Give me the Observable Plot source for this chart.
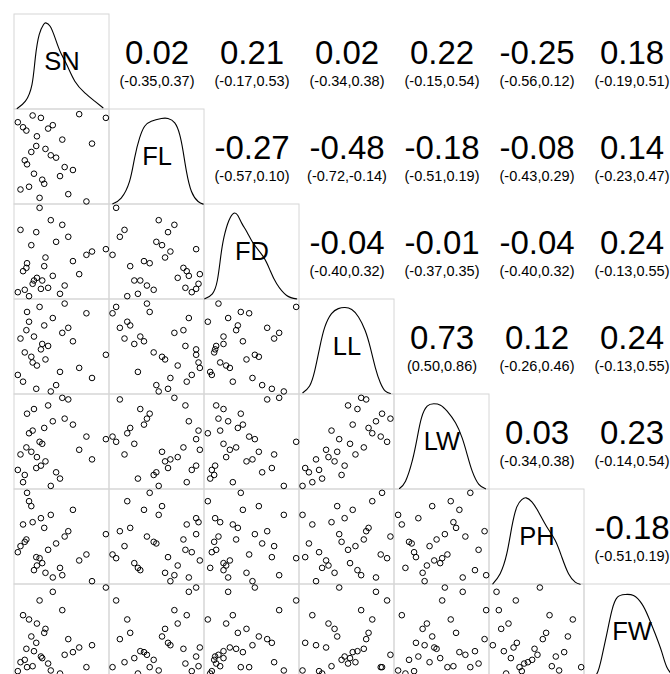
<!DOCTYPE html>
<html><head><meta charset="utf-8">
<script src="https://cdn.jsdelivr.net/npm/d3@7"></script>
<script src="https://cdn.jsdelivr.net/npm/@observablehq/plot@0.6"></script>
<style>
body{margin:0;background:#fff;}
#chart{width:670px;height:674px;overflow:hidden;background:#fff;}
#chart svg{max-width:none !important;width:680px !important;height:680px !important;}
</style></head><body><div id="chart"></div>
<script>
// Variables (panel order)
const vars = ["SN","FL","FD","LL","LW","PH","FW"];

const SN = [.035,.063,.090,.108,.125,.132,.153,.177,.191,.205,.229,.236,.264,.278,.292,.313,.326,.354,.382,.403,.438,.479,.503,.528,.566,.615,.681,.757,.816,.962];
const FL = [.866,.158,.813,.465,.778,.423,.187,.553,.937,.324,.616,.718,.070,.912,.261,.218,.585,.799,.518,.835,.493,.299,.683,.394,.109,.363,.951,.032,.641,.912];
const FD = [.077,.733,.298,.102,.333,.382,.035,.572,.165,.200,.709,.228,.965,.112,.200,.351,.442,.123,.835,.249,.607,.060,.786,.147,.660,.404,.267,.470,.505,.530];
const LL = [.206,.589,.135,.443,.677,.869,.766,.397,.337,.610,.060,.305,.922,.475,.532,.727,.369,.511,.032,.805,.099,.238,.649,.957,.702,.560,.280,.855,.174,.418];
const LW = [.206,.369,.077,.153,.443,.798,.592,.397,.620,.847,.226,.341,.502,.251,.481,.648,.296,.885,.038,.718,.181,.115,.965,.746,.948,.683,.418,.557,.317,.530];
const PH = [.340,.404,.632,.449,.474,.965,.877,.825,.656,.151,.288,.200,.277,.698,.225,.596,.123,.365,.733,.074,.432,.175,.098,.505,.561,.786,.253,.316,.035,.530];
const FW = [.088,.182,.677,.207,.323,.130,.632,.453,.140,.298,.386,.589,.832,.242,.225,.491,.533,.168,.095,.923,.020,.063,.730,.260,.425,.288,.337,.130,.361,.968];

// Upper-triangle correlations (row-major, i<j) and confidence intervals
const rValues = [0.02, 0.21, 0.02, 0.22, -0.25, 0.18,
                 -0.27, -0.48, -0.18, -0.08, 0.14,
                 -0.04, -0.01, -0.04, 0.24,
                 0.73, 0.12, 0.24,
                 0.03, 0.23,
                 -0.18];
const ciLow  = [-0.35, -0.17, -0.34, -0.15, -0.56, -0.19,
                -0.57, -0.72, -0.51, -0.43, -0.23,
                -0.40, -0.37, -0.40, -0.13,
                0.50, -0.26, -0.13,
                -0.34, -0.14,
                -0.51];
const ciHigh = [0.37, 0.53, 0.38, 0.54, 0.12, 0.51,
                0.10, -0.14, 0.19, 0.29, 0.47,
                0.32, 0.35, 0.32, 0.55,
                0.86, 0.46, 0.55,
                0.38, 0.54,
                0.19];

// Diagonal density curves: [x fraction, height fraction]
const densSN = [[.028,.011],[.115,.088],[.184,.263],[.219,.544],[.260,.789],[.306,.895],[.330,.912],[.375,.877],[.427,.754],[.479,.614],[.549,.474],[.635,.298],[.740,.175],[.844,.088],[.931,.018]];
const densFL = [[.035,.007],[.123,.067],[.211,.243],[.264,.489],[.317,.701],[.370,.824],[.440,.877],[.546,.905],[.616,.905],[.687,.859],[.739,.736],[.775,.560],[.810,.349],[.863,.137],[.933,.032],[.986,.004]];
const densFD = [[.003,.007],[.083,.060],[.135,.200],[.170,.446],[.205,.656],[.257,.832],[.309,.909],[.351,.884],[.396,.796],[.448,.709],[.517,.586],[.622,.446],[.691,.305],[.760,.165],[.865,.042],[.969,.007]];
const densLL = [[.035,.018],[.106,.089],[.160,.248],[.213,.496],[.266,.709],[.337,.851],[.408,.904],[.479,.915],[.550,.894],[.621,.816],[.691,.674],[.745,.496],[.798,.284],[.851,.124],[.904,.035],[.957,.011]];
const densLW = [[.053,.011],[.116,.088],[.186,.298],[.239,.544],[.284,.754],[.344,.877],[.414,.902],[.484,.888],[.554,.825],[.642,.702],[.712,.544],[.765,.368],[.818,.193],[.888,.053],[.958,.007]];
const densPH = [[.035,.007],[.112,.113],[.182,.324],[.235,.606],[.288,.817],[.340,.894],[.386,.912],[.446,.870],[.516,.764],[.604,.606],[.691,.465],[.761,.289],[.832,.113],[.902,.025],[.954,.002]];
const densFW = [[.050,.010],[.130,.060],[.182,.235],[.235,.481],[.288,.726],[.347,.867],[.428,.895],[.516,.884],[.604,.796],[.674,.656],[.744,.481],[.814,.288],[.867,.130],[.950,.010]];

// ---- build tables for the library ----
const values = {SN, FL, FD, LL, LW, PH, FW};
const densities = {SN: densSN, FL: densFL, FD: densFD, LL: densLL, LW: densLW, PH: densPH, FW: densFW};

const points = [];
const boxes = [];
const upper = [];
let u = 0;
vars.forEach((rowVar, i) => {
  vars.forEach((colVar, j) => {
    if (j < i) {
      boxes.push({fx: colVar, fy: rowVar});
      values[colVar].forEach((xv, k) => points.push({fx: colVar, fy: rowVar, x: xv, y: values[rowVar][k]}));
    } else if (j === i) {
      boxes.push({fx: colVar, fy: rowVar});
    }
  });
});
for (let i = 0; i < vars.length; i++) {
  for (let j = i + 1; j < vars.length; j++) {
    upper.push({fx: vars[j], fy: vars[i], r: rValues[u].toFixed(2), ci: `(${ciLow[u].toFixed(2)},${ciHigh[u].toFixed(2)})`});
    u++;
  }
}
const dens = vars.flatMap(v => densities[v].map(([x, h]) => ({fx: v, fy: v, x, y: h, v})));
const labels = vars.map(v => ({fx: v, fy: v, v}));

const chart = Plot.plot({
  width: 680,
  height: 680,
  marginTop: 13,
  marginLeft: 12,
  marginRight: 0,
  marginBottom: 0,
  facet: {marginTop: 0, marginRight: 0, marginBottom: 0, marginLeft: 0},
  fx: {domain: vars, padding: 0, axis: null},
  fy: {domain: vars, padding: 0, axis: null},
  x: {domain: [0, 1], axis: null},
  y: {domain: [0, 1], axis: null},
  style: {fontFamily: "'Liberation Sans', Arial, sans-serif", background: "white", maxWidth: "none"},
  marks: [
    Plot.rect(boxes, {fx: "fx", fy: "fy", x1: 0, x2: 1, y1: 0, y2: 1, fill: "none", stroke: "#d6d6d6", strokeWidth: 1}),
    Plot.dot(points, {fx: "fx", fy: "fy", x: "x", y: "y", r: 2.8, stroke: "black", fill: "none", strokeWidth: 1}),
    Plot.text(labels, {fx: "fx", fy: "fy", x: 0.5, y: 0.5, text: "v", fontSize: 25.5, fill: "black"}),
    Plot.line(dens, {fx: "fx", fy: "fy", x: "x", y: "y", z: "v", curve: "natural", stroke: "black", strokeWidth: 1.1}),
    Plot.text(upper, {fx: "fx", fy: "fy", x: 0.5, y: 0.587, text: "r", fontSize: 33, fill: "black"}),
    Plot.text(upper, {fx: "fx", fy: "fy", x: 0.5, y: 0.295, text: "ci", fontSize: 14.5, fill: "black"})
  ]
});
document.getElementById("chart").appendChild(chart);
</script>
</body></html>
